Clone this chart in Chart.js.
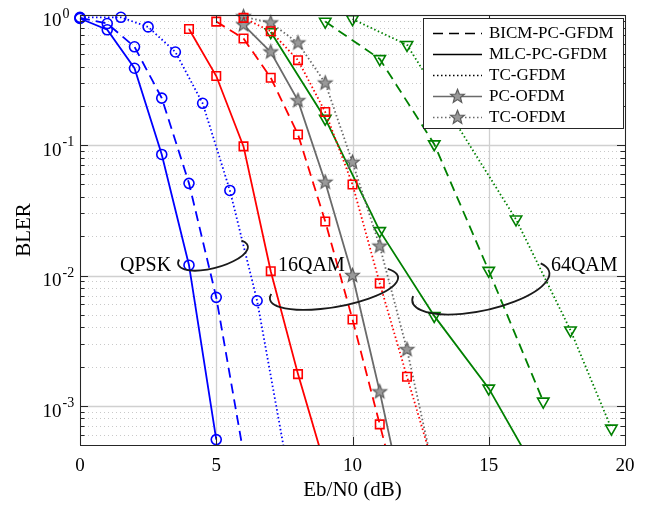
<!DOCTYPE html>
<html><head><meta charset="utf-8">
<script src="https://cdn.jsdelivr.net/npm/chart.js@4"></script>
<style>html,body{margin:0;padding:0;background:#fff}#wrap{width:649px;height:505px;position:relative}</style>
</head><body><div id="wrap"><canvas id="c" width="649" height="505"></canvas></div>
<script>
// ---------- data ----------
const xTicks = [0, 5, 10, 15, 20];
const yDecades = [0, -1, -2, -3];
const legendLabels = ['BICM-PC-GFDM', 'MLC-PC-GFDM', 'TC-GFDM', 'PC-OFDM', 'TC-OFDM'];
const groupLabels = ['QPSK', '16QAM', '64QAM'];

// QPSK
const qpskMlcX  = [0, 1, 2, 3, 4, 5];
const qpskMlcY  = [0.94, 0.77, 0.39, 0.085, 0.012, 0.00055];
const qpskBicmX = [0, 1, 2, 3, 4, 5, 6];
const qpskBicmY = [0.95, 0.86, 0.57, 0.23, 0.051, 0.0068, 0.00043];
const qpskTcX   = [0, 1.5, 2.5, 3.5, 4.5, 5.5, 6.5, 7.5];
const qpskTcY   = [0.96, 0.96, 0.81, 0.52, 0.21, 0.045, 0.0064, 0.00045];
// 16QAM
const qam16MlcX  = [4, 5, 6, 7, 8, 9];
const qam16MlcY  = [0.78, 0.34, 0.098, 0.0108, 0.00175, 0.00034];
const qam16BicmX = [5, 6, 7, 8, 9, 10, 11, 12];
const qam16BicmY = [0.89, 0.66, 0.33, 0.121, 0.026, 0.0046, 0.00072, 0.00011];
const qam16TcX   = [6, 7, 8, 9, 10, 11, 12, 13];
const qam16TcY   = [0.95, 0.75, 0.45, 0.18, 0.050, 0.0087, 0.00167, 0.00033];
const qam16PcOfdmX = [6, 7, 8, 9, 10, 11, 12];
const qam16PcOfdmY = [0.84, 0.52, 0.22, 0.052, 0.0100, 0.00128, 0.00014];
const qam16TcOfdmX = [6, 7, 8, 9, 10, 11, 12, 13];
const qam16TcOfdmY = [0.97, 0.87, 0.61, 0.30, 0.074, 0.0168, 0.0027, 0.00030];
// 64QAM
const qam64MlcX  = [7, 9, 11, 13, 15, 17];
const qam64MlcY  = [0.74, 0.16, 0.022, 0.0049, 0.00136, 0.00025];
const qam64BicmX = [9, 11, 13, 15, 17];
const qam64BicmY = [0.89, 0.46, 0.102, 0.0109, 0.00108];
const qam64TcX   = [10, 12, 16, 18, 19.5];
const qam64TcY   = [0.93, 0.59, 0.027, 0.0038, 0.00067];

// ---------- styles ----------
const BLUE = '#0000ff', RED = '#ff0000', GREEN = '#008000', GRAY = '#6a6a6a';
const DASH = [10, 6], DOT = [1.5, 2.5], SOLID = [];
const SERIF = '"Liberation Serif", "Times New Roman", serif';

function makeStar(outer, inner, fill, stroke) {
  const s = Math.ceil(outer * 2 + 4);
  const c = document.createElement('canvas');
  c.width = s; c.height = s;
  const g = c.getContext('2d');
  g.beginPath();
  for (let i = 0; i < 10; i++) {
    const r = i % 2 ? inner : outer;
    const a = -Math.PI / 2 + i * Math.PI / 5;
    g.lineTo(s / 2 + r * Math.cos(a), s / 2 + r * Math.sin(a));
  }
  g.closePath();
  g.fillStyle = fill; g.fill();
  g.strokeStyle = stroke; g.lineWidth = 1.2; g.stroke();
  return c;
}
const star = makeStar(7.2, 3.1, '#999999', '#5c5c5c');

function ds(label, xs, ys, color, dash, style, radius, rotation) {
  return {
    label,
    data: xs.map((x, i) => ({ x, y: ys[i] })),
    borderColor: color,
    backgroundColor: 'transparent',
    borderDash: dash,
    borderWidth: 1.8,
    tension: 0,
    pointStyle: style,
    pointRadius: radius,
    pointRotation: rotation || 0,
    pointBorderColor: color,
    pointBackgroundColor: 'transparent',
    pointBorderWidth: 1.6,
    clip: { left: 14, top: 14, right: 14, bottom: 0 }
  };
}

const datasets = [
  ds('QPSK ' + legendLabels[1], qpskMlcX, qpskMlcY, BLUE, SOLID, 'circle', 5),
  ds('QPSK ' + legendLabels[0], qpskBicmX, qpskBicmY, BLUE, DASH, 'circle', 5),
  ds('QPSK ' + legendLabels[2], qpskTcX, qpskTcY, BLUE, DOT, 'circle', 5),
  ds('16QAM ' + legendLabels[1], qam16MlcX, qam16MlcY, RED, SOLID, 'rect', 6),
  ds('16QAM ' + legendLabels[0], qam16BicmX, qam16BicmY, RED, DASH, 'rect', 6),
  ds('16QAM ' + legendLabels[2], qam16TcX, qam16TcY, RED, DOT, 'rect', 6),
  ds('16QAM ' + legendLabels[3], qam16PcOfdmX, qam16PcOfdmY, GRAY, SOLID, star, 7),
  ds('16QAM ' + legendLabels[4], qam16TcOfdmX, qam16TcOfdmY, GRAY, DOT, star, 7),
  ds('64QAM ' + legendLabels[1], qam64MlcX, qam64MlcY, GREEN, SOLID, 'triangle', 6.6, 180),
  ds('64QAM ' + legendLabels[0], qam64BicmX, qam64BicmY, GREEN, DASH, 'triangle', 6.6, 180),
  ds('64QAM ' + legendLabels[2], qam64TcX, qam64TcY, GREEN, DOT, 'triangle', 6.6, 180)
];

// annotation ellipses: centre in data units, radii in px, rotation deg, arc in deg
const ellipses = [
  { cx: 4.88, cy: 0.01436, rx: 36, ry: 13, rot: -15, a0: -30, a1: 200 },
  { cx: 9.32, cy: 0.00802, rx: 65, ry: 19, rot: -10, a0: -30, a1: 195 },
  { cx: 14.71, cy: 0.0082, rx: 70, ry: 24, rot: -12.3, a0: -25, a1: 193 }
];
const groupLabelX = [1.47, 7.27, 17.28];
const groupLabelY = 0.01083;

const legendStyles = [
  { color: '#000', dash: DASH, marker: null },
  { color: '#000', dash: SOLID, marker: null },
  { color: '#000', dash: DOT, marker: null },
  { color: GRAY, dash: SOLID, marker: star },
  { color: GRAY, dash: DOT, marker: star }
];

const deco = {
  id: 'deco',
  beforeDatasetsDraw(chart) {
    const { ctx, chartArea: { left, right, top, bottom }, scales: { x, y } } = chart;
    ctx.save();
    ctx.lineWidth = 1;
    ctx.strokeStyle = '#c9c9c9';
    ctx.setLineDash([1, 3]);
    for (let d = -4; d <= 0; d++) {
      for (let m = 2; m <= 9; m++) {
        const v = m * Math.pow(10, d);
        if (v < y.min || v > y.max) continue;
        const py = Math.round(y.getPixelForValue(v)) + 0.5;
        ctx.beginPath(); ctx.moveTo(left, py); ctx.lineTo(right, py); ctx.stroke();
      }
    }
    ctx.setLineDash([]);
    ctx.strokeStyle = '#d0d0d0';
    ctx.lineWidth = 1.3;
    yDecades.forEach(d => {
      const py = Math.round(y.getPixelForValue(Math.pow(10, d))) + 0.5;
      ctx.beginPath(); ctx.moveTo(left, py); ctx.lineTo(right, py); ctx.stroke();
    });
    xTicks.forEach(t => {
      const px = Math.round(x.getPixelForValue(t)) + 0.5;
      ctx.beginPath(); ctx.moveTo(px, top); ctx.lineTo(px, bottom); ctx.stroke();
    });
    ctx.restore();
  },
  afterDatasetsDraw(chart) {
    const { ctx, chartArea: { left, right, top, bottom }, scales: { x, y } } = chart;
    ctx.save();
    ctx.strokeStyle = '#262626';
    ctx.lineWidth = 1;
    ctx.setLineDash([]);
    ctx.strokeRect(Math.round(left) + 0.5, Math.round(top) + 0.5, Math.round(right - left), Math.round(bottom - top));
    for (let d = -4; d <= 0; d++) {
      for (let m = 1; m <= 9; m++) {
        const v = m * Math.pow(10, d);
        if (v < y.min * 0.999 || v > y.max * 1.001) continue;
        const py = Math.round(y.getPixelForValue(v)) + 0.5;
        const len = m === 1 ? 8 : 4.5;
        ctx.beginPath();
        ctx.moveTo(left, py); ctx.lineTo(left + len, py);
        ctx.moveTo(right, py); ctx.lineTo(right - len, py);
        ctx.stroke();
      }
    }
    xTicks.forEach(t => {
      const px = Math.round(x.getPixelForValue(t)) + 0.5;
      ctx.beginPath();
      ctx.moveTo(px, bottom); ctx.lineTo(px, bottom - 8);
      ctx.moveTo(px, top); ctx.lineTo(px, top + 8);
      ctx.stroke();
    });
    ctx.fillStyle = '#000';
    ctx.textBaseline = 'alphabetic';
    yDecades.forEach(d => {
      const py = y.getPixelForValue(Math.pow(10, d));
      ctx.font = '19px ' + SERIF;
      ctx.textAlign = 'right';
      ctx.fillText('10', 61.5, py + 10.8);
      ctx.font = '14px ' + SERIF;
      ctx.textAlign = 'left';
      ctx.fillText(String(d), 62.5, py + (d === 0 ? 3 : 1));
    });
    ctx.strokeStyle = '#1a1a1a';
    ctx.lineWidth = 1.8;
    ellipses.forEach(e => {
      const cx = x.getPixelForValue(e.cx), cy = y.getPixelForValue(e.cy);
      ctx.beginPath();
      ctx.ellipse(cx, cy, e.rx, e.ry, e.rot * Math.PI / 180, e.a0 * Math.PI / 180, e.a1 * Math.PI / 180, false);
      ctx.stroke();
    });
    ctx.font = '20px ' + SERIF;
    ctx.textAlign = 'left';
    ctx.fillStyle = '#000';
    groupLabels.forEach((g, i) => {
      ctx.fillText(g, x.getPixelForValue(groupLabelX[i]), y.getPixelForValue(groupLabelY));
    });
    const lx0 = 423, ly0 = 18, lx1 = 623, ly1 = 128;
    ctx.fillStyle = '#fff';
    ctx.fillRect(lx0, ly0, lx1 - lx0, ly1 - ly0);
    ctx.strokeStyle = '#262626';
    ctx.lineWidth = 1;
    ctx.strokeRect(lx0 + 0.5, ly0 + 0.5, lx1 - lx0, ly1 - ly0);
    legendLabels.forEach((lab, i) => {
      const st = legendStyles[i];
      const ry = 33.5 + i * 21;
      ctx.strokeStyle = st.color;
      ctx.lineWidth = 1.7;
      ctx.setLineDash(st.dash);
      ctx.beginPath(); ctx.moveTo(433, ry); ctx.lineTo(482, ry); ctx.stroke();
      ctx.setLineDash([]);
      if (st.marker) ctx.drawImage(st.marker, 457.5 - st.marker.width / 2, ry - st.marker.height / 2);
      ctx.fillStyle = '#000';
      ctx.font = '17px ' + SERIF;
      ctx.textBaseline = 'middle';
      ctx.fillText(lab, 489, ry + 0.5);
    });
    ctx.restore();
  }
};

new Chart(document.getElementById('c'), {
  type: 'line',
  data: { datasets },
  options: {
    responsive: false,
    devicePixelRatio: 1,
    animation: false,
    events: [],
    layout: { padding: { left: 0, right: 24, top: 15, bottom: 0 } },
    plugins: { legend: { display: false }, tooltip: { enabled: false } },
    scales: {
      x: {
        type: 'linear', min: 0, max: 20,
        grid: { display: false, drawTicks: false },
        border: { display: false },
        ticks: {
          stepSize: 5, padding: 10, color: '#000', autoSkip: false, maxRotation: 0,
          font: { family: SERIF, size: 19 },
          callback: v => xTicks.includes(v) ? String(v) : ''
        },
        title: { display: true, text: 'Eb/N0 (dB)', color: '#000', font: { family: SERIF, size: 21 }, padding: { top: 0, bottom: 2 } },
        afterFit(s) { s.height = 60; }
      },
      y: {
        type: 'logarithmic', min: 0.0005, max: 1,
        grid: { display: false, drawTicks: false },
        border: { display: false },
        ticks: { display: false },
        title: { display: true, text: 'BLER', color: '#000', font: { family: SERIF, size: 21 }, padding: { top: 11.4, bottom: 0 } },
        afterFit(s) { s.width = 80; }
      }
    }
  },
  plugins: [deco]
});
</script></body></html>
